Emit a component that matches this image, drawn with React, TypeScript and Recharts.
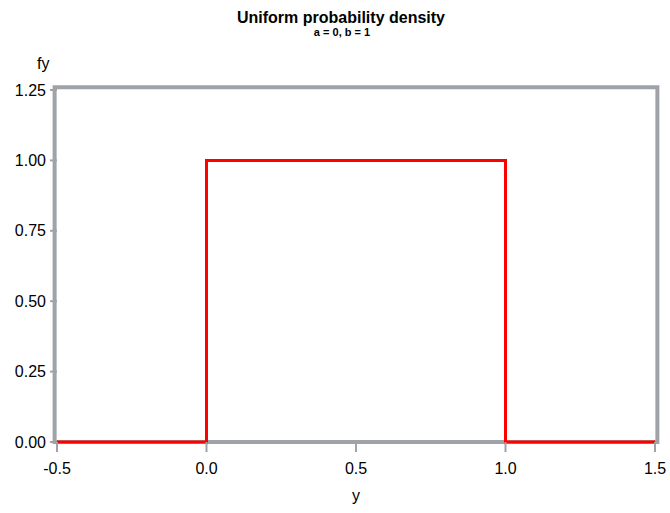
import React from 'react';
import { LineChart, Line, XAxis, YAxis, ReferenceArea } from 'recharts';

const yValues = [-0.5, 0, 0, 1, 1, 1.5];
const fyValues = [0, 0, 1, 1, 0, 0];
const xTicks = [-0.5, 0, 0.5, 1, 1.5];
const yTicks = [0, 0.25, 0.5, 0.75, 1, 1.25];

const data = yValues.map((y, i) => ({ y, fy: fyValues[i] }));

const FONT = '"Liberation Sans", Arial, sans-serif';
const GRAY = '#9fa3a8';

export default function App() {
  return (
    <div style={{ position: 'absolute', left: 0, top: 0, width: 670, height: 513, background: '#fff', fontFamily: FONT }}>
      <div style={{ position: 'absolute', left: 0, width: 682, top: 10, textAlign: 'center', fontWeight: 'bold', fontSize: 16, lineHeight: '16px', color: '#000', whiteSpace: 'nowrap' }}>
        Uniform probability density
      </div>
      <div style={{ position: 'absolute', left: 0, width: 684, top: 27, textAlign: 'center', fontWeight: 'bold', fontSize: 11, lineHeight: '11px', color: '#000', whiteSpace: 'nowrap' }}>
        a = 0, b = 1
      </div>
      <div style={{ position: 'absolute', left: 37, top: 56, fontSize: 16, lineHeight: '16px', color: '#000' }}>fy</div>
      <div style={{ position: 'absolute', left: 352, top: 488, fontSize: 16, lineHeight: '16px', color: '#000' }}>y</div>
      <LineChart width={670} height={513} data={data} margin={{ top: 90, right: 15, bottom: 21, left: 0 }}>
        <XAxis
          dataKey="y"
          type="number"
          domain={[-0.5, 1.5]}
          ticks={xTicks}
          tickFormatter={(v: number) => v.toFixed(1)}
          axisLine={false}
          tickLine={{ stroke: GRAY, strokeWidth: 2 }}
          tickSize={10}
          tickMargin={11}
          height={50}
          tick={{ fill: '#000', fontSize: 16, fontFamily: FONT }}
        />
        <YAxis
          type="number"
          domain={[0, 1.25]}
          ticks={yTicks}
          tickFormatter={(v: number) => v.toFixed(2)}
          axisLine={false}
          tickLine={{ stroke: GRAY, strokeWidth: 2 }}
          tickSize={7}
          tickMargin={4}
          width={57}
          tick={{ fill: '#000', fontSize: 16, fontFamily: FONT }}
        />
        <ReferenceArea x1={-0.508} x2={1.508} y1={0} y2={1.26} fill="none" stroke={GRAY} strokeWidth={4} ifOverflow="visible" />
        <Line dataKey="fy" type="linear" stroke="#ff0000" strokeWidth={3} dot={false} isAnimationActive={false} strokeLinejoin="miter" strokeLinecap="butt" />
      </LineChart>
    </div>
  );
}
